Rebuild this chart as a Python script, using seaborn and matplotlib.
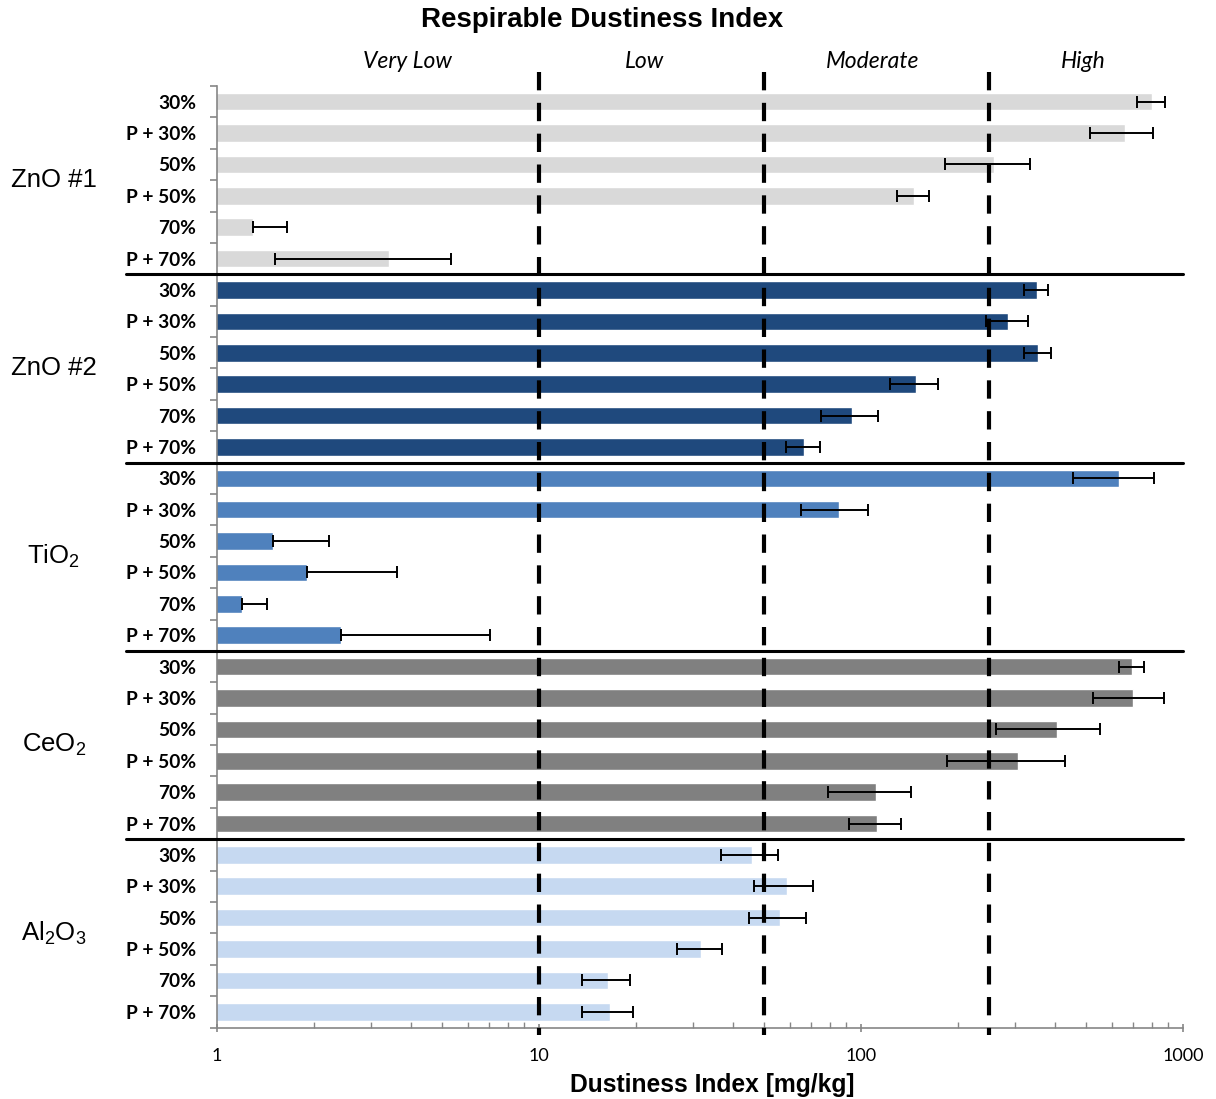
import numpy as np
import pandas as pd
import matplotlib
matplotlib.use("Agg")
import matplotlib.pyplot as plt
from matplotlib.ticker import LogLocator, NullFormatter, FixedLocator
import seaborn as sns

# ---- data -------------------------------------------------------------
groups = ["ZnO #1", "ZnO #2", "TiO2", "CeO2", "Al2O3"]
group_titles = ["ZnO #1", "ZnO #2", "TiO$_\\mathregular{2}$", "CeO$_\\mathregular{2}$",
                "Al$_\\mathregular{2}$O$_\\mathregular{3}$"]
conditions = ["30%", "P + 30%", "50%", "P + 50%", "70%", "P + 70%"]

zno1_mean = [800, 660, 259, 146, 1.29, 3.42]
zno1_sd = [82, 146, 77, 17, 0.36, 1.91]
zno2_mean = [351, 287, 355, 148, 94, 66.4]
zno2_sd = [30, 42, 34, 25, 19, 8.1]
tio2_mean = [635, 85.2, 1.49, 1.90, 1.20, 2.43]
tio2_sd = [180, 20.3, 0.74, 1.71, 0.23, 4.59]
ceo2_mean = [694, 698, 407, 308, 111, 112.5]
ceo2_sd = [60, 174, 144, 123, 32, 20.6]
al2o3_mean = [46, 58.8, 56.2, 31.9, 16.4, 16.6]
al2o3_sd = [9.2, 12.2, 11.2, 5.0, 2.8, 3.0]

colors = ["#D9D9D9", "#1F497D", "#4F81BD", "#808080", "#C6D9F1"]

class_limits = [10, 50, 250]
class_names = ["Very Low", "Low", "Moderate", "High"]
class_label_x = [3.9, 21.3, 109, 489]

x_ticks = [1, 10, 100, 1000]

# ---- table ------------------------------------------------------------
means = [zno1_mean, zno2_mean, tio2_mean, ceo2_mean, al2o3_mean]
sds = [zno1_sd, zno2_sd, tio2_sd, ceo2_sd, al2o3_sd]
rows = []
for g, m, s in zip(groups, means, sds):
    for c, v, e in zip(conditions, m, s):
        rows.append({"key": f"{g} | {c}", "group": g, "cond": c, "value": v, "sd": e})
df = pd.DataFrame(rows)

# ---- style ------------------------------------------------------------
sns.set_style("white")
plt.rcParams["font.family"] = ["Liberation Sans", "DejaVu Sans"]
plt.rcParams["mathtext.default"] = "regular"
plt.rcParams["text.color"] = "black"
plt.rcParams["axes.labelcolor"] = "black"
plt.rcParams["xtick.labelcolor"] = "black"
plt.rcParams["ytick.labelcolor"] = "black"

fig = plt.figure(figsize=(12.16, 10.99), dpi=100)
ax = fig.add_axes([217 / 1216, (1099 - 1027.5) / 1099, 966 / 1216, 941.5 / 1099])

sns.barplot(data=df, x="value", y="key", hue="group", order=df["key"].tolist(),
            hue_order=groups, palette=dict(zip(groups, colors)), dodge=False,
            errorbar=None, width=0.56, saturation=1, legend=False, ax=ax)

ax.set_xscale("log")
ax.set_xlim(1, 1000)
ax.set_ylim(len(df) - 0.5, -0.5)

# error bars; the lower whisker is dropped where it would leave the axis
pos = np.arange(len(df))
lower = np.where(df["value"] - df["sd"] >= 1, df["sd"], 0.0)
ax.errorbar(df["value"], pos, xerr=[lower, df["sd"]], fmt="none", ecolor="black",
            elinewidth=1.4, capsize=4.5, capthick=1.4, zorder=4)

# dustiness class thresholds
for lim in class_limits:
    ax.plot([lim, lim], [1.0149, -0.008], transform=ax.get_xaxis_transform(),
            color="black", lw=3, dashes=(4.4, 3.0), clip_on=False, zorder=5,
            solid_capstyle="butt", dash_capstyle="butt")
for name, xc in zip(class_names, class_label_x):
    ax.text(xc, 1.0265, name, transform=ax.get_xaxis_transform(), ha="center",
            va="center", fontsize=16.5, style="italic", color="black",
            family=["Lato", "DejaVu Sans"])

# group separators and group names
n = len(conditions)
for i in range(1, len(groups)):
    ax.plot([-0.094, 1.0], [i * n - 0.5] * 2, transform=ax.get_yaxis_transform(),
            color="black", lw=2.2, clip_on=False, zorder=5)
for i, t in enumerate(group_titles):
    ax.text(-0.169, i * n + (n - 1) / 2, t, transform=ax.get_yaxis_transform(),
            ha="center", va="center", fontsize=18.5, color="black")

# axes decoration
for side in ["top", "right"]:
    ax.spines[side].set_visible(False)
for side in ["left", "bottom"]:
    ax.spines[side].set_color("#868686")
    ax.spines[side].set_linewidth(1.2)

ax.set_yticks(pos)
ax.set_yticklabels(df["cond"], fontsize=13.8, fontweight="bold",
                   family=["Lato", "DejaVu Sans"], color="black")
ax.yaxis.set_minor_locator(FixedLocator(np.arange(len(df) + 1) - 0.5))
ax.tick_params(axis="y", which="major", length=0, pad=15)
ax.tick_params(axis="y", which="minor", length=5, width=1.2, color="#868686",
               direction="out", left=True)

ax.xaxis.set_major_locator(FixedLocator(x_ticks))
ax.set_xticklabels([str(t) for t in x_ticks], fontsize=13,
                   family=["Lato", "DejaVu Sans"], color="black")
ax.xaxis.set_minor_locator(LogLocator(base=10, subs=np.arange(2, 10)))
ax.xaxis.set_minor_formatter(NullFormatter())
ax.tick_params(axis="x", which="major", length=6, width=1.2, color="#868686",
               direction="inout", pad=12, bottom=True)
ax.tick_params(axis="x", which="minor", length=4, width=1.0, color="#868686",
               direction="in", bottom=True)

ax.set_ylabel("")
ax.set_xlabel("Dustiness Index [mg/kg]", fontsize=17.7, fontweight="bold",
              va="center", color="black")
ax.xaxis.set_label_coords(0.513, -0.061)

fig.text(602 / 1216, 1 - 20 / 1099, "Respirable Dustiness Index", ha="center",
         va="center", fontsize=20, fontweight="bold", color="black")

fig.savefig("out.png", dpi=100)
